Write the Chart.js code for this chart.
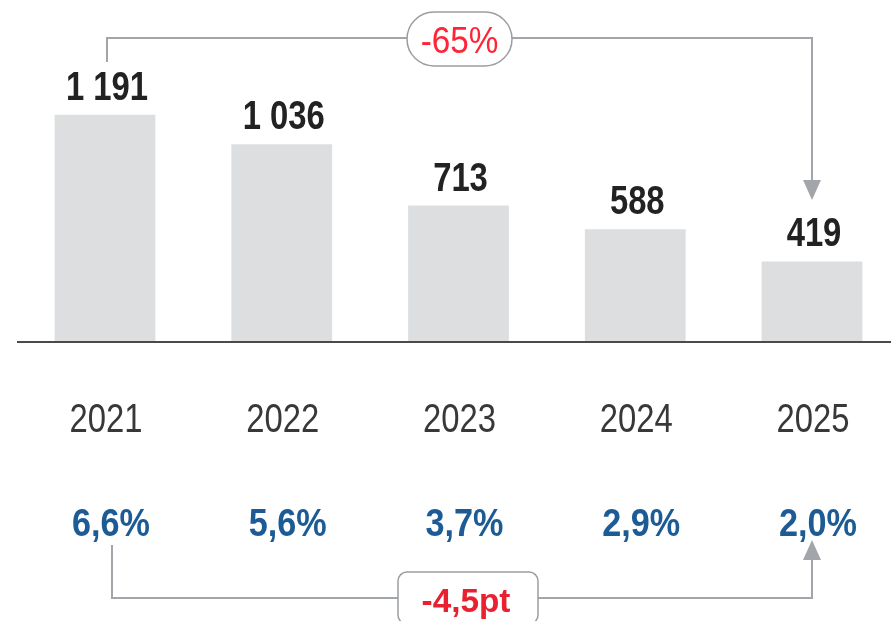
<!DOCTYPE html>
<html>
<head>
<meta charset="utf-8">
<script src="https://cdn.jsdelivr.net/npm/chart.js@4.4.1/dist/chart.umd.min.js"></script>
<style>
  html, body { margin: 0; padding: 0; background: #fff; }
</style>
</head>
<body>
<canvas id="chart" width="891" height="621"></canvas>
<script>
const years = ["2021", "2022", "2023", "2024", "2025"];
const volumes = [1191, 1036, 713, 588, 419];
const rates = [6.6, 5.6, 3.7, 2.9, 2.0];
const volumeChange = "-65%";
const rateChange = "-4,5pt";

const FONT = '"Liberation Sans", Arial, sans-serif';
const LINE_GREY = '#a2a6aa';

const fmtNum = v => String(v).replace(/\B(?=(\d{3})+(?!\d))/g, ' ');
const fmtRate = r => r.toFixed(1).replace('.', ',') + '%';

// no narrow font installed, so squeeze the text horizontally
function narrowText(ctx, text, x, y, sx) {
    ctx.save();
    ctx.translate(x, y);
    ctx.scale(sx, 1);
    ctx.fillText(text, 0, 0);
    ctx.restore();
}

function roundBox(ctx, x, y, w, h, r) {
    ctx.beginPath();
    ctx.moveTo(x + r, y);
    ctx.lineTo(x + w - r, y);
    ctx.arcTo(x + w, y, x + w, y + r, r);
    ctx.lineTo(x + w, y + h - r);
    ctx.arcTo(x + w, y + h, x + w - r, y + h, r);
    ctx.lineTo(x + r, y + h);
    ctx.arcTo(x, y + h, x, y + h - r, r);
    ctx.lineTo(x, y + r);
    ctx.arcTo(x, y, x + r, y, r);
    ctx.closePath();
}

function arrowHead(ctx, x, tipY, dir) {
    // dir = 1 pointing down, -1 pointing up
    ctx.beginPath();
    ctx.moveTo(x, tipY);
    ctx.lineTo(x - 9, tipY - dir * 20);
    ctx.lineTo(x + 9, tipY - dir * 20);
    ctx.closePath();
    ctx.fill();
}

// labels, axis line and the two change annotations
const extras = {
    id: 'extras',
    afterDatasetsDraw(chart) {
        const ctx = chart.ctx;
        const xs = chart.scales.x;
        const ys = chart.scales.y;
        const base = ys.getPixelForValue(0);
        ctx.save();

        // axis line
        ctx.strokeStyle = '#4a4a4a';
        ctx.lineWidth = 2;
        ctx.beginPath();
        ctx.moveTo(17, base + 1);
        ctx.lineTo(891, base + 1);
        ctx.stroke();

        ctx.textAlign = 'center';
        ctx.textBaseline = 'alphabetic';

        // values above bars
        ctx.fillStyle = '#222';
        ctx.font = 'bold 40px ' + FONT;
        volumes.forEach((v, i) => {
            narrowText(ctx, fmtNum(v), xs.getPixelForValue(i) + 2, ys.getPixelForValue(v) - 15, 0.82);
        });

        // years
        ctx.fillStyle = '#383838';
        ctx.font = '40px ' + FONT;
        years.forEach((y, i) => {
            narrowText(ctx, y, xs.getPixelForValue(i) + 1, 432, 0.82);
        });

        // rates
        ctx.fillStyle = '#1c5b95';
        ctx.font = 'bold 38px ' + FONT;
        rates.forEach((r, i) => {
            narrowText(ctx, fmtRate(r), xs.getPixelForValue(i) + 6, 536, 0.9);
        });

        // top annotation
        const x0 = xs.getPixelForValue(0) + 2;
        const x4 = xs.getPixelForValue(4);
        ctx.strokeStyle = LINE_GREY;
        ctx.fillStyle = LINE_GREY;
        ctx.lineWidth = 2;
        ctx.beginPath();
        ctx.moveTo(x0, 62);
        ctx.lineTo(x0, 38);
        ctx.lineTo(x4, 38);
        ctx.lineTo(x4, 185);
        ctx.stroke();
        arrowHead(ctx, x4, 200, 1);

        roundBox(ctx, 407, 12, 105, 54, 27);
        ctx.fillStyle = '#fff';
        ctx.fill();
        ctx.strokeStyle = '#9a9ea2';
        ctx.lineWidth = 1.5;
        ctx.stroke();
        ctx.fillStyle = '#ff2436';
        ctx.font = '37px ' + FONT;
        narrowText(ctx, volumeChange, 459.5, 53, 0.9);

        // bottom annotation
        const b0 = xs.getPixelForValue(0) + 7;
        ctx.strokeStyle = LINE_GREY;
        ctx.fillStyle = LINE_GREY;
        ctx.lineWidth = 2;
        ctx.beginPath();
        ctx.moveTo(b0, 545);
        ctx.lineTo(b0, 598);
        ctx.lineTo(x4, 598);
        ctx.lineTo(x4, 555);
        ctx.stroke();
        arrowHead(ctx, x4, 540, -1);

        roundBox(ctx, 398, 572, 140, 52, 9);
        ctx.fillStyle = '#fff';
        ctx.fill();
        ctx.strokeStyle = '#9a9ea2';
        ctx.lineWidth = 1.5;
        ctx.stroke();
        ctx.fillStyle = '#e8202f';
        ctx.font = 'bold 34px ' + FONT;
        narrowText(ctx, rateChange, 466, 612, 0.98);

        ctx.restore();
    }
};

const chart = new Chart(document.getElementById('chart'), {
    type: 'bar',
    data: {
        labels: years,
        datasets: [{
            data: volumes,
            backgroundColor: '#dddee0',
            borderWidth: 0,
            barPercentage: 0.57,
            categoryPercentage: 1,
            clip: false
        }]
    },
    options: {
        responsive: false,
        animation: false,
        layout: {
            padding: { left: 105, right: 79, top: 20, bottom: 280 }
        },
        scales: {
            x: { display: false, offset: false },
            y: { display: false, min: 0, max: 1690 }
        },
        plugins: {
            legend: { display: false },
            tooltip: { enabled: false }
        }
    },
    plugins: [extras]
});
</script>
</body>
</html>
